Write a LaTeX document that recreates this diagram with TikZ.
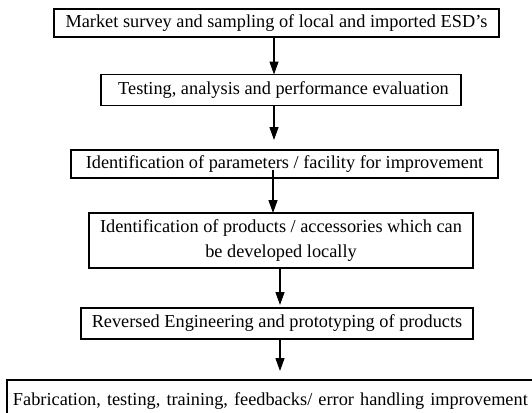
\documentclass[tikz,border=0pt]{standalone}
\usepackage{fontspec}
\setmainfont{Liberation Serif}
\usetikzlibrary{arrows.meta}
\begin{document}
\begin{tikzpicture}[x=1pt,y=1pt,
  box/.style={draw, line width=1.5pt, inner sep=0pt, outer sep=0pt, align=center,
    font=\fontsize{18.3}{24.5}\selectfont},
  arr/.style={line width=1.3pt, -{Triangle[length=13pt,width=9pt]}}]
\useasboundingbox (0,0) rectangle (532,-412);
\node[box, minimum width=445pt, minimum height=28pt] (b1) at (276.5,-23)
  {Market survey and sampling of local and imported ESD’s};
\node[box, minimum width=360pt, minimum height=31pt] (b2) at (281,-90)
  {\hspace*{5pt}Testing, analysis and performance evaluation};
\node[box, minimum width=427pt, minimum height=28pt] (b3) at (284.5,-164)
  {Identification of parameters / facility for improvement};
\node[box, minimum width=384pt, minimum height=55pt] (b4) at (281,-240.5)
  {Identification of products / accessories which can\\be developed locally};
\node[box, minimum width=392pt, minimum height=31pt] (b5) at (277,-323.5)
  {Reversed Engineering and prototyping of products};
\node[box, minimum width=540pt, minimum height=42pt, text width=530pt, align=left] (b6) at (277,-401)
  {\hspace*{1pt}Fabrication, testing, training, feedbacks/ error handling improvement};
\coordinate (a2end) at (274,-140);
\coordinate (a3start) at (273,-170);
\coordinate (a4end) at (280,-305);
\coordinate (a5end) at (280,-371);
\draw[arr] ([xshift=-2.5pt]b1.south) -- ([xshift=-7pt]b2.north);
\draw[arr] ([xshift=-7pt]b2.south) -- (a2end);
\draw[arr] (a3start) -- (b4.north -| a3start);
\draw[arr] ([xshift=-1pt]b4.south) -- (a4end);
\draw[arr] ([xshift=3pt]b5.south) -- (a5end);
\end{tikzpicture}
\end{document}
